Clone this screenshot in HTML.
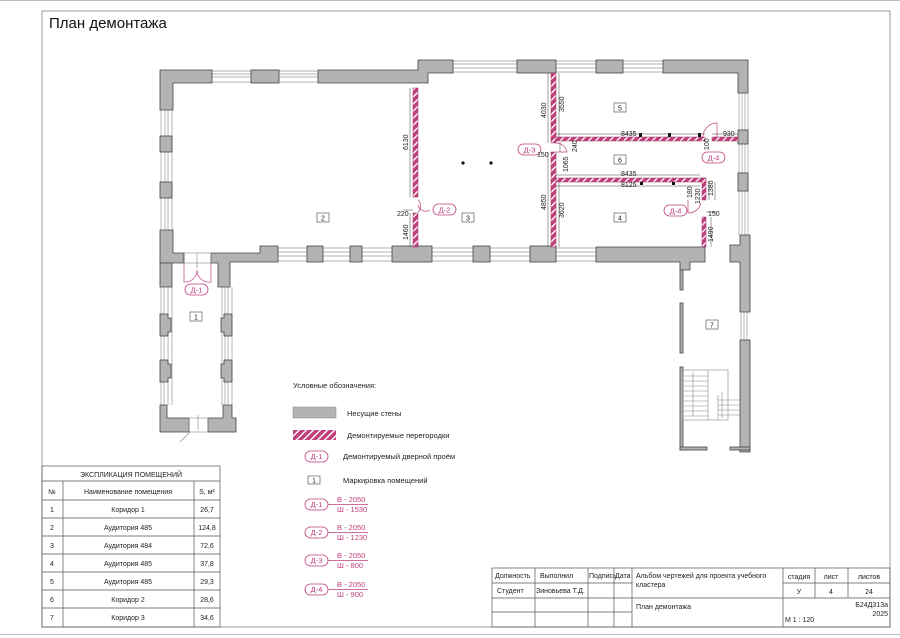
<!DOCTYPE html>
<html><head><meta charset="utf-8"><style>
html,body{margin:0;padding:0;background:#fff;}
svg{display:block;font-family:"Liberation Sans","DejaVu Sans",sans-serif;}
</style></head><body>
<svg width="900" height="638" viewBox="0 0 900 638" xmlns="http://www.w3.org/2000/svg">
<defs>
<pattern id="h" patternUnits="userSpaceOnUse" width="5" height="5" patternTransform="rotate(45)">
<rect width="5" height="5" fill="#c0407c"/><rect x="0" y="0" width="1.4" height="5" fill="#fff"/>
</pattern>
</defs>
<rect x="0" y="0" width="900" height="638" fill="#fff"/>
<line x1="0" y1="0.5" x2="900" y2="0.5" stroke="#bbb"/>
<line x1="0" y1="634.5" x2="900" y2="634.5" stroke="#bbb"/>
<rect x="42" y="11" width="848" height="616" fill="none" stroke="#999" stroke-width="1"/>
<text x="49" y="28" font-size="15" fill="#111">План демонтажа</text>

<!-- windows (thin lines) -->
<g stroke="#999" stroke-width="0.7" fill="none">
<path d="M212 71H418M212 74H418M212 77H418M212 82H418"/>
<path d="M453 61H663M453 64H663M453 68H663M453 72H663"/>
<path d="M278 248H705M278 252H705M278 256H705M278 261H705"/>
<path d="M161 110V232M165 110V232M168 110V232M172 110V232"/>
<path d="M739 93V235M742 93V235M745 93V235M748 93V235"/>
<path d="M161 287V405M164 287V405M168 287V405M172 287V405"/>
<path d="M222 287V405M225 287V405M228 287V405M232 287V405"/>
<path d="M741 312V340M744 312V340M747 312V340"/>
</g>

<!-- walls -->
<g fill="#b3b3b3" stroke="#444" stroke-width="0.8">
<path d="M160 70H212V83H173V110H160Z"/>
<rect x="251" y="70" width="28" height="13"/>
<path d="M318 70H418V60H453V73H428V83H318Z"/>
<rect x="517" y="60" width="39" height="13"/>
<rect x="596" y="60" width="27" height="13"/>
<path d="M663 60H748V93H738V73H663Z"/>
<rect x="738" y="130" width="10" height="14"/>
<rect x="738" y="173" width="10" height="18"/>
<rect x="160" y="136" width="12" height="16"/>
<rect x="160" y="182" width="12" height="16"/>
<path d="M160 230H173V253H184V263H160Z"/>
<path d="M211 253H260V246H278V262H230V287H218V263H211Z"/>
<rect x="307" y="246" width="16" height="16"/>
<rect x="350" y="246" width="12" height="16"/>
<rect x="392" y="246" width="40" height="16"/>
<rect x="473" y="246" width="17" height="16"/>
<rect x="530" y="246" width="26" height="16"/>
<path d="M596 247H705V262H690V270H680V262H596Z"/>
<path d="M730 245H740V235H750V312H740V262H730Z"/>
<rect x="740" y="340" width="10" height="112"/>
<path d="M160 263H172V287H160Z"/>
<path d="M160 314H168V318H171V332H168V336H160Z"/>
<path d="M160 360H168V364H171V378H168V382H160Z"/>
<path d="M232 314H224V318H221V332H224V336H232Z"/>
<path d="M232 360H224V364H221V378H224V382H232Z"/>
<path d="M160 405H167V418H189V432H160Z"/>
<path d="M223 405H232V418H236V432H208V418H223Z"/>
<rect x="680" y="270" width="3" height="20"/>
<rect x="680" y="303" width="3" height="50"/>
<rect x="680" y="367" width="3" height="83"/>
<rect x="680" y="447" width="27" height="3"/>
<rect x="730" y="447" width="20" height="3"/>
</g>

<!-- stairs -->
<g stroke="#888" stroke-width="0.6" fill="none">
<rect x="183" y="253" width="28" height="10"/>
<line x1="197" y1="253" x2="197" y2="268"/>
<rect x="189" y="418" width="19" height="14"/>
<line x1="198" y1="415" x2="198" y2="430"/>
<line x1="190" y1="432" x2="180" y2="442"/>
<rect x="683" y="370" width="45" height="50"/>
<line x1="708" y1="370" x2="708" y2="420"/>
<line x1="718" y1="395" x2="718" y2="420"/>
<path d="M683 376H708M683 381H708M683 386H708M683 391H708M683 396H708M683 401H708M683 406H708M683 411H708M683 416H708"/>
<path d="M718 400H740M718 405H740M718 410H740M718 415H740"/>
<line x1="693" y1="372" x2="693" y2="416"/><line x1="722" y1="392" x2="722" y2="418"/>
</g>

<!-- demolished partitions -->
<g fill="url(#h)" stroke="#a03060" stroke-width="0.5">
<rect x="413" y="88" width="5" height="109"/>
<rect x="413" y="213" width="5" height="34"/>
<rect x="551" y="73" width="5" height="70"/>
<rect x="551" y="152" width="5" height="95"/>
<rect x="556" y="137" width="149" height="4"/>
<rect x="712" y="137" width="26" height="4"/>
<rect x="556" y="178" width="150" height="4"/>
<rect x="702" y="178" width="4" height="22"/>
<rect x="702" y="217" width="4" height="30"/>
</g>
<g fill="#111">
<rect x="639" y="133" width="3" height="4"/><rect x="668" y="133" width="3" height="4"/><rect x="698" y="133" width="3" height="4"/>
<rect x="640" y="182" width="3" height="3"/><rect x="672" y="182" width="3" height="3"/>
<circle cx="463" cy="163" r="1.6"/><circle cx="491" cy="163" r="1.6"/>
</g>

<!-- doors swings -->
<g stroke="#c0407c" stroke-width="0.7" fill="none">
<path d="M418 200 A8 8 0 0 1 418 212M418 205 A8 8 0 0 0 430 210"/>
<path d="M184 263V282A12 12 0 0 0 197 270M211 263V282A12 12 0 0 1 197 270"/>
<path d="M556 143 A11 11 0 0 1 567 152H556"/>
<path d="M717 137V123A14 14 0 0 0 703 137"/>
<path d="M688 200V213A13 13 0 0 0 701 203"/>
</g>

<!-- door tags -->
<g stroke="#c0407c" stroke-width="0.8" fill="#fff" font-size="8" text-anchor="middle">
<rect x="185" y="284" width="23" height="11" rx="5.5"/>
<rect x="433" y="204" width="23" height="11" rx="5.5"/>
<rect x="518" y="144" width="23" height="11" rx="5.5"/>
<rect x="702" y="152" width="23" height="11" rx="5.5"/>
<rect x="664" y="205" width="23" height="11" rx="5.5"/>
</g>
<g fill="#c0407c" font-size="7.5" text-anchor="middle">
<text x="196.5" y="292.5">Д-1</text><text x="444.5" y="212.5">Д-2</text><text x="529.5" y="152.5">Д-3</text><text x="713.5" y="160.5">Д-4</text><text x="675.5" y="213.5">Д-4</text>
</g>

<!-- room labels -->
<g stroke="#444" stroke-width="0.6" fill="#fff">
<rect x="190" y="312" width="12" height="9"/><rect x="317" y="213" width="12" height="9"/><rect x="462" y="213" width="12" height="9"/>
<rect x="614" y="213" width="12" height="9"/><rect x="614" y="103" width="12" height="9"/><rect x="614" y="155" width="12" height="9"/><rect x="706" y="320" width="12" height="9"/>
</g>
<g fill="#222" font-size="7" text-anchor="middle">
<text x="196" y="319.5">1</text><text x="323" y="220.5">2</text><text x="468" y="220.5">3</text><text x="620" y="220.5">4</text><text x="620" y="110.5">5</text><text x="620" y="162.5">6</text><text x="712" y="327.5">7</text>
</g>

<!-- dimensions -->
<g stroke="#444" stroke-width="0.5" fill="none">
<path d="M410 88V197M410 213V247M548 73V143M548 152V247M559 73V137M559 182V247M560 142V152M709 182V200M711 217V247M715 182V200"/>
<path d="M556 134H705M556 175H700M556 186H700M712 134H738M706 212H716M404 210H413"/>
</g>
<g fill="#222" font-size="7">
<text transform="translate(408,150) rotate(-90)">6130</text>
<text transform="translate(408,240) rotate(-90)">1460</text>
<text x="397" y="216">220</text>
<text transform="translate(546,118) rotate(-90)">4030</text>
<text transform="translate(546,210) rotate(-90)">4850</text>
<text transform="translate(564,112) rotate(-90)">3550</text>
<text transform="translate(564,218) rotate(-90)">3620</text>
<text transform="translate(568,172) rotate(-90)">1065</text>
<text transform="translate(577,152) rotate(-90)">240</text>
<text x="537" y="157">150</text>
<text x="621" y="136">8435</text>
<text x="621" y="176">8435</text>
<text x="621" y="187">8125</text>
<text x="723" y="136">930</text>
<text transform="translate(709,150) rotate(-90)">100</text>
<text transform="translate(692,198) rotate(-90)">180</text>
<text transform="translate(700,204) rotate(-90)">1230</text>
<text transform="translate(713,196) rotate(-90)">1380</text>
<text x="708" y="216">150</text>
<text transform="translate(713,242) rotate(-90)">1490</text>
</g>

<!-- legend -->
<g font-size="7.5" fill="#222">
<text x="293" y="388">Условные обозначения:</text>
<rect x="293" y="407" width="43" height="11" fill="#b3b3b3" stroke="#888" stroke-width="0.5"/>
<text x="347" y="416">Несущие стены</text>
<rect x="293" y="430" width="43" height="10" fill="url(#h)"/>
<text x="347" y="438">Демонтируемые перегородки</text>
<text x="343" y="459">Демонтируемый дверной проём</text>
<rect x="308" y="476" width="12" height="8" fill="#fff" stroke="#444" stroke-width="0.6"/>
<text x="314" y="482.5" font-size="6.5" text-anchor="middle">1</text>
<text x="343" y="483">Маркировка помещений</text>
</g>
<g stroke="#c0407c" stroke-width="0.8" fill="#fff">
<rect x="305" y="451" width="23" height="11" rx="5.5"/>
<rect x="305" y="499" width="23" height="11" rx="5.5"/>
<rect x="305" y="527" width="23" height="11" rx="5.5"/>
<rect x="305" y="555" width="23" height="11" rx="5.5"/>
<rect x="305" y="584" width="23" height="11" rx="5.5"/>
<path d="M328 504.5H368M328 532.5H368M328 560.5H368M328 589.5H368" fill="none"/>
</g>
<g fill="#c0407c" font-size="7.5">
<g text-anchor="middle"><text x="316.5" y="459">Д-1</text><text x="316.5" y="507">Д-1</text><text x="316.5" y="535">Д-2</text><text x="316.5" y="563">Д-3</text><text x="316.5" y="592">Д-4</text></g>
<text x="337" y="502">В - 2050</text><text x="337" y="512">Ш - 1530</text>
<text x="337" y="530">В - 2050</text><text x="337" y="540">Ш - 1230</text>
<text x="337" y="558">В - 2050</text><text x="337" y="568">Ш - 800</text>
<text x="337" y="587">В - 2050</text><text x="337" y="597">Ш - 900</text>
</g>

<!-- explication table -->
<g stroke="#555" stroke-width="0.7" fill="none">
<rect x="42" y="466" width="178" height="161"/>
<path d="M42 481H220M42 500H220M42 518H220M42 536H220M42 554H220M42 572H220M42 590H220M42 608H220"/>
<path d="M63 481V627M194 481V627"/>
</g>
<g font-size="7" fill="#222" text-anchor="middle">
<text x="131" y="477">ЭКСПЛИКАЦИЯ ПОМЕЩЕНИЙ</text>
<text x="52" y="494">№</text><text x="128" y="494">Наименование помещения</text><text x="207" y="494">S, м²</text>
<text x="52" y="512">1</text><text x="128" y="512">Коридор 1</text><text x="207" y="512">26,7</text>
<text x="52" y="530">2</text><text x="128" y="530">Аудитория 485</text><text x="207" y="530">124,8</text>
<text x="52" y="548">3</text><text x="128" y="548">Аудитория 484</text><text x="207" y="548">72,6</text>
<text x="52" y="566">4</text><text x="128" y="566">Аудитория 485</text><text x="207" y="566">37,8</text>
<text x="52" y="584">5</text><text x="128" y="584">Аудитория 485</text><text x="207" y="584">29,3</text>
<text x="52" y="602">6</text><text x="128" y="602">Коридор 2</text><text x="207" y="602">28,6</text>
<text x="52" y="620">7</text><text x="128" y="620">Коридор 3</text><text x="207" y="620">34,6</text>
</g>

<!-- title block -->
<g stroke="#555" stroke-width="0.7" fill="none">
<rect x="492" y="568" width="398" height="59"/>
<path d="M492 583H632M492 598H890M492 612H632M783 583H890"/>
<path d="M535 568V627M588 568V627M614 568V627M632 568V627M783 568V627M815 568V598M848 568V598"/>
</g>
<g font-size="7" fill="#222">
<text x="495" y="578">Должность</text><text x="540" y="578">Выполнил</text><text x="589" y="578">Подпись</text><text x="615" y="578">Дата</text>
<text x="636" y="578">Альбом чертежей для проекта учебного</text><text x="636" y="587">кластера</text>
<text x="497" y="593">Студент</text><text x="536" y="593">Зиновьева Т.Д.</text>
<text x="636" y="609">План демонтажа</text>
<text x="785" y="622">М 1 : 120</text>
<g text-anchor="middle"><text x="799" y="579">стадия</text><text x="831" y="579">лист</text><text x="869" y="579">листов</text>
<text x="799" y="594">У</text><text x="831" y="594">4</text><text x="869" y="594">24</text></g>
<g text-anchor="end"><text x="888" y="607">Б24Д313а</text><text x="888" y="616">2025</text></g>
</g>
</svg>
</body></html>
